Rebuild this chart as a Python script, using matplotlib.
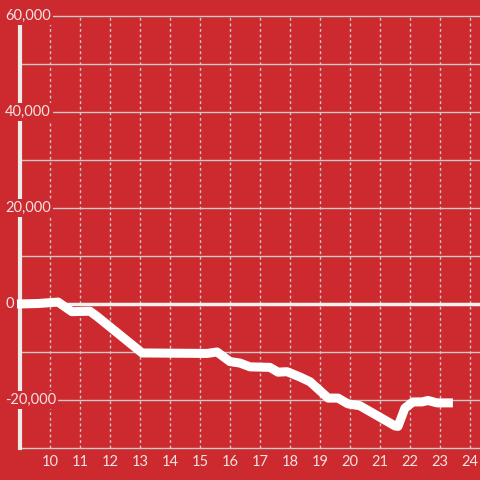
import matplotlib
matplotlib.use("Agg")
import matplotlib.pyplot as plt
import matplotlib.transforms as mtransforms

BG = "#cc2a2e"
FG = "#f3e3e3"
GRID = "#d2c8c8"

plt.rcParams["font.family"] = ["Lato", "DejaVu Sans"]

# line data (hour of day, value)
hours = [8.9, 9.6, 10.27, 10.73, 11.33, 11.57, 13.07, 15.23, 15.57, 16.0,
         16.33, 16.67, 17.33, 17.6, 17.9, 18.33, 18.67, 19.27, 19.6, 19.93,
         20.33, 21.0, 21.5, 21.6, 21.83, 22.1, 22.4, 22.6, 22.9, 23.43]
values = [0, 100, 400, -1600, -1500, -2600, -10200, -10300, -10000, -12000,
          -12300, -13100, -13200, -14200, -14100, -15200, -16200, -19600, -19600, -20800,
          -21200, -23600, -25400, -25500, -21700, -20400, -20400, -20100, -20600, -20600]

x_ticks = list(range(10, 25))
y_grid = list(range(-30000, 60001, 10000))
y_labels = [60000, 40000, 20000, 0, -20000]

fig = plt.figure(figsize=(4.8, 4.8), dpi=100, facecolor=BG)
ax = fig.add_axes([0, 0, 1, 1], facecolor=BG)
ax.set_xlim(9 - 20 / 30, 9 + 460 / 30)
ax.set_ylim((304 - 480) / 96 * 20000, (304 - 0) / 96 * 20000)
ax.axis("off")

# horizontal grid
for v in y_grid:
    if v == 0:
        continue
    ax.plot([9, 25], [v, v], color=GRID, lw=1, zorder=1)
# vertical dashed grid
for h in x_ticks:
    ax.plot([h, h], [-30000, 60000], color=GRID, lw=1, ls=(0, (2, 2)), zorder=1)

# zero line and left axis
ax.plot([9, 25], [0, 0], color="#f5f0f0", lw=2.5, zorder=2)
ax.plot([9, 9], [-30000, 58300], color="#f0ebeb", lw=3, zorder=2)

ax.plot(hours, values, color="white", lw=6.5, solid_joinstyle="round",
        solid_capstyle="butt", zorder=3)

trans = mtransforms.blended_transform_factory(ax.transAxes, ax.transData)
for v in y_labels:
    ax.text(5 / 480, v, f"{v:,}", transform=trans, ha="left", va="center",
            fontsize=10.5, color=FG, zorder=5,
            bbox=dict(boxstyle="square,pad=0.15", fc=BG, ec="none"))

for h in x_ticks:
    ax.text(h, -33000, str(h), ha="center", va="center", fontsize=10.5,
            color=FG, zorder=5)

fig.savefig("out.png", dpi=100, facecolor=BG)
